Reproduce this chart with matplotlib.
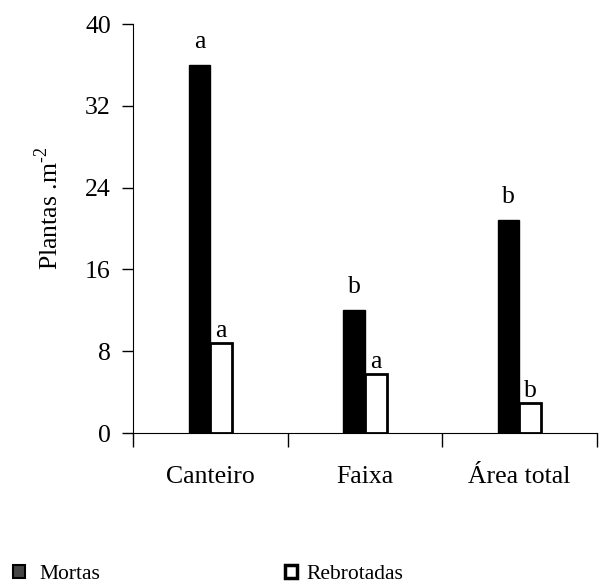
import matplotlib
matplotlib.use("Agg")
import matplotlib.pyplot as plt
from matplotlib.patches import Patch
import numpy as np

plt.rcParams['font.family'] = ['Liberation Serif', 'DejaVu Serif']
plt.rcParams['mathtext.fontset'] = 'custom'
plt.rcParams['mathtext.rm'] = 'Liberation Serif'

categorias = ['Canteiro', 'Faixa', 'Área total']
mortas = [36, 12, 20.8]
rebrotadas = [8.8, 5.8, 2.9]
letras_mortas = ['a', 'b', 'b']
letras_rebrotadas = ['a', 'a', 'b']

fs = 18.5

fig = plt.figure(figsize=(6.03, 5.86), dpi=100)
ax = fig.add_axes([0.2206, 0.261, 0.769, 0.698])

x = np.arange(len(categorias)) + 0.5
w = 0.14
ax.bar(x - w / 2, mortas, w, color='black', edgecolor='black', linewidth=1)
ax.bar(x + w / 2, rebrotadas, w, color='white', edgecolor='black', linewidth=2)

# letras de comparacao acima das barras
for xi, v, t in zip(x - w / 2, mortas, letras_mortas):
    ax.text(xi, v + 1.2, t, ha='center', va='bottom', fontsize=fs)
for xi, v, t in zip(x + w / 2, rebrotadas, letras_rebrotadas):
    ax.text(xi, v + 0.1, t, ha='center', va='bottom', fontsize=fs)

ax.set_xlim(0, 3)
ax.set_ylim(0, 40)
ax.set_yticks(np.arange(0, 41, 8))
ax.set_xticks([0, 1, 2, 3])
ax.set_xticklabels([])
ax.set_xticks(x, minor=True)
ax.set_xticklabels(categorias, minor=True, fontsize=fs)
ax.tick_params(axis='x', which='minor', length=0, pad=24)
ax.tick_params(axis='x', which='major', length=10, width=1, direction='out')
ax.tick_params(axis='y', length=8, width=1, direction='out', labelsize=fs, pad=8)
for s in ['top', 'right']:
    ax.spines[s].set_visible(False)
ax.set_ylabel(r'Plantas .m$^{\text{-}2}$', fontsize=fs)
ax.yaxis.set_label_coords(-0.152, 0.55)

h1 = Patch(facecolor='#444444', edgecolor='black', linewidth=1.5, label='Mortas')
h2 = Patch(facecolor='white', edgecolor='black', linewidth=2.5, label='Rebrotadas')
fig.legend(handles=[h1], loc='lower left', bbox_to_anchor=(0.0216, 0.004), frameon=False,
           fontsize=15.5, handlelength=0.55, handleheight=0.55, handletextpad=0.67,
           borderpad=0, borderaxespad=0)
fig.legend(handles=[h2], loc='lower left', bbox_to_anchor=(0.473, 0.004), frameon=False,
           fontsize=15.5, handlelength=0.55, handleheight=0.55, handletextpad=0.43,
           borderpad=0, borderaxespad=0)

fig.savefig('out.png', dpi=100)
